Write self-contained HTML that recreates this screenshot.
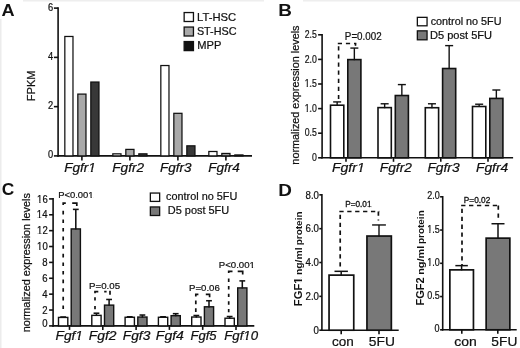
<!DOCTYPE html>
<html><head><meta charset="utf-8"><style>
html,body{margin:0;padding:0;background:#fff;width:520px;height:348px;overflow:hidden}
svg{display:block;filter:blur(0.35px)}
text{font-family:"Liberation Sans",sans-serif}
</style></head><body>
<svg width="520" height="348" viewBox="0 0 520 348">
<defs><clipPath id="cg1_1" clipPathUnits="userSpaceOnUse"><path clip-rule="evenodd" d="M-2000,-2000 L3000,-2000 L3000,3000 L-2000,3000 Z M304.70,112.55 L306.70,112.55 L306.70,110.69 L304.70,110.69 Z M307.85,112.55 L309.55,112.55 L309.55,110.69 L307.85,110.69 Z"/></clipPath><clipPath id="cg1_2" clipPathUnits="userSpaceOnUse"><path clip-rule="evenodd" d="M-2000,-2000 L3000,-2000 L3000,3000 L-2000,3000 Z M304.70,87.95 L306.70,87.95 L306.70,86.09 L304.70,86.09 Z M307.85,87.95 L309.55,87.95 L309.55,86.09 L307.85,86.09 Z"/></clipPath><clipPath id="cg1_3" clipPathUnits="userSpaceOnUse"><path clip-rule="evenodd" d="M-2000,-2000 L3000,-2000 L3000,3000 L-2000,3000 Z M37.08,250.93 L39.27,250.93 L39.27,249.11 L37.08,249.11 Z M40.54,250.93 L42.40,250.93 L42.40,249.11 L40.54,249.11 Z"/></clipPath><clipPath id="cg1_4" clipPathUnits="userSpaceOnUse"><path clip-rule="evenodd" d="M-2000,-2000 L3000,-2000 L3000,3000 L-2000,3000 Z M37.08,235.05 L39.27,235.05 L39.27,233.23 L37.08,233.23 Z M40.54,235.05 L42.40,235.05 L42.40,233.23 L40.54,233.23 Z"/></clipPath><clipPath id="cg1_5" clipPathUnits="userSpaceOnUse"><path clip-rule="evenodd" d="M-2000,-2000 L3000,-2000 L3000,3000 L-2000,3000 Z M36.85,219.18 L39.04,219.18 L39.04,217.36 L36.85,217.36 Z M40.31,219.18 L42.17,219.18 L42.17,217.36 L40.31,217.36 Z"/></clipPath><clipPath id="cg1_6" clipPathUnits="userSpaceOnUse"><path clip-rule="evenodd" d="M-2000,-2000 L3000,-2000 L3000,3000 L-2000,3000 Z M37.08,203.30 L39.27,203.30 L39.27,201.48 L37.08,201.48 Z M40.54,203.30 L42.40,203.30 L42.40,201.48 L40.54,201.48 Z"/></clipPath><clipPath id="cg1_7" clipPathUnits="userSpaceOnUse"><path clip-rule="evenodd" d="M-2000,-2000 L3000,-2000 L3000,3000 L-2000,3000 Z M427.15,266.53 L429.22,266.53 L429.22,264.82 L427.15,264.82 Z M430.41,266.53 L432.16,266.53 L432.16,264.82 L430.41,264.82 Z"/></clipPath><clipPath id="cg1_8" clipPathUnits="userSpaceOnUse"><path clip-rule="evenodd" d="M-2000,-2000 L3000,-2000 L3000,3000 L-2000,3000 Z M427.15,233.28 L429.22,233.28 L429.22,231.57 L427.15,231.57 Z M430.41,233.28 L432.16,233.28 L432.16,231.57 L430.41,231.57 Z"/></clipPath><clipPath id="cg1_9" clipPathUnits="userSpaceOnUse"><path clip-rule="evenodd" d="M-2000,-2000 L3000,-2000 L3000,3000 L-2000,3000 Z M88.01,172.72 L90.61,172.72 L91.06,170.58 L88.46,170.58 Z M92.34,172.72 L95.17,172.72 L95.62,170.58 L92.79,170.58 Z"/></clipPath><clipPath id="cg1_10" clipPathUnits="userSpaceOnUse"><path clip-rule="evenodd" d="M-2000,-2000 L3000,-2000 L3000,3000 L-2000,3000 Z M356.59,173.22 L359.27,173.22 L359.74,171.08 L357.05,171.08 Z M361.06,173.22 L363.99,173.22 L364.46,171.08 L361.53,171.08 Z"/></clipPath><clipPath id="cg1_11" clipPathUnits="userSpaceOnUse"><path clip-rule="evenodd" d="M-2000,-2000 L3000,-2000 L3000,3000 L-2000,3000 Z M75.03,341.02 L77.66,341.02 L78.12,338.88 L75.49,338.88 Z M79.42,341.02 L82.28,341.02 L82.74,338.88 L79.87,338.88 Z"/></clipPath><clipPath id="cg1_12" clipPathUnits="userSpaceOnUse"><path clip-rule="evenodd" d="M-2000,-2000 L3000,-2000 L3000,3000 L-2000,3000 Z M243.02,341.02 L245.57,341.02 L246.01,338.88 L243.46,338.88 Z M247.27,341.02 L250.04,341.02 L250.48,338.88 L247.71,338.88 Z"/></clipPath><clipPath id="cg1_13" clipPathUnits="userSpaceOnUse"><path clip-rule="evenodd" d="M-2000,-2000 L3000,-2000 L3000,3000 L-2000,3000 Z M88.34,198.32 L90.52,198.32 L90.52,196.64 L88.34,196.64 Z M91.77,198.32 L93.61,198.32 L93.61,196.64 L91.77,196.64 Z"/></clipPath><clipPath id="cg1_14" clipPathUnits="userSpaceOnUse"><path clip-rule="evenodd" d="M-2000,-2000 L3000,-2000 L3000,3000 L-2000,3000 Z M249.54,268.32 L251.76,268.32 L251.76,266.64 L249.54,266.64 Z M253.04,268.32 L254.92,268.32 L254.92,266.64 L253.04,266.64 Z"/></clipPath><clipPath id="cg1_15" clipPathUnits="userSpaceOnUse"><path clip-rule="evenodd" d="M-2000,-2000 L3000,-2000 L3000,3000 L-2000,3000 Z M22.37,0.84 L24.78,0.84 L24.78,-1.46 L22.37,-1.46 Z M26.74,0.84 L28.61,0.84 L28.61,-1.46 L26.74,-1.46 Z"/></clipPath><clipPath id="cg1_16" clipPathUnits="userSpaceOnUse"><path clip-rule="evenodd" d="M-2000,-2000 L3000,-2000 L3000,3000 L-2000,3000 Z M366.91,208.01 L368.80,208.01 L368.80,206.59 L366.91,206.59 Z M369.88,208.01 L371.48,208.01 L371.48,206.59 L369.88,206.59 Z"/></clipPath></defs>
<rect width="520" height="348" fill="#fff"/>
<rect x="0" y="19" width="1.5" height="329" fill="#ececec"/>
<rect x="23" y="0" width="241" height="1.5" fill="#eeeeee"/>
<rect x="303" y="0" width="217" height="1.5" fill="#eeeeee"/>
<line x1="58.10" y1="7.32" x2="58.10" y2="156.70" stroke="#111" stroke-width="1.6"/>
<line x1="57.30" y1="155.90" x2="252.00" y2="155.90" stroke="#111" stroke-width="1.6"/>
<line x1="53.90" y1="155.90" x2="58.10" y2="155.90" stroke="#111" stroke-width="1.6"/>
<line x1="53.90" y1="106.64" x2="58.10" y2="106.64" stroke="#111" stroke-width="1.6"/>
<line x1="53.90" y1="57.38" x2="58.10" y2="57.38" stroke="#111" stroke-width="1.6"/>
<line x1="53.90" y1="8.12" x2="58.10" y2="8.12" stroke="#111" stroke-width="1.6"/>
<rect x="64.83" y="36.47" width="8.15" height="119.43" fill="#ffffff" stroke="#111" stroke-width="1.25"/>
<rect x="77.83" y="94.10" width="8.15" height="61.80" fill="#a9a9a9" stroke="#111" stroke-width="1.25"/>
<rect x="90.83" y="82.04" width="8.15" height="73.86" fill="#383838" stroke="#111" stroke-width="1.25"/>
<line x1="81.90" y1="155.90" x2="81.90" y2="160.40" stroke="#111" stroke-width="1.6"/>
<rect x="112.83" y="153.83" width="8.15" height="2.07" fill="#ffffff" stroke="#111" stroke-width="1.25"/>
<rect x="125.83" y="149.40" width="8.15" height="6.50" fill="#a9a9a9" stroke="#111" stroke-width="1.25"/>
<rect x="138.83" y="153.83" width="8.15" height="2.07" fill="#383838" stroke="#111" stroke-width="1.25"/>
<line x1="129.90" y1="155.90" x2="129.90" y2="160.40" stroke="#111" stroke-width="1.6"/>
<rect x="160.83" y="65.53" width="8.15" height="90.37" fill="#ffffff" stroke="#111" stroke-width="1.25"/>
<rect x="173.83" y="113.32" width="8.15" height="42.58" fill="#a9a9a9" stroke="#111" stroke-width="1.25"/>
<rect x="186.83" y="145.83" width="8.15" height="10.07" fill="#383838" stroke="#111" stroke-width="1.25"/>
<line x1="177.90" y1="155.90" x2="177.90" y2="160.40" stroke="#111" stroke-width="1.6"/>
<rect x="208.83" y="151.49" width="8.15" height="4.41" fill="#ffffff" stroke="#111" stroke-width="1.25"/>
<rect x="221.83" y="153.46" width="8.15" height="2.44" fill="#a9a9a9" stroke="#111" stroke-width="1.25"/>
<rect x="234.83" y="154.94" width="8.15" height="0.96" fill="#383838" stroke="#111" stroke-width="1.25"/>
<line x1="225.90" y1="155.90" x2="225.90" y2="160.40" stroke="#111" stroke-width="1.6"/>
<rect x="184.15" y="12.55" width="9.30" height="8.95" fill="#ffffff" stroke="#111" stroke-width="1.3"/>
<rect x="184.15" y="27.05" width="9.30" height="8.95" fill="#a9a9a9" stroke="#111" stroke-width="1.3"/>
<rect x="184.15" y="41.55" width="9.30" height="9.05" fill="#111111" stroke="#111" stroke-width="1.3"/>
<line x1="322.10" y1="34.00" x2="322.10" y2="158.60" stroke="#111" stroke-width="1.6"/>
<line x1="321.30" y1="157.80" x2="513.10" y2="157.80" stroke="#111" stroke-width="1.6"/>
<line x1="318.10" y1="157.80" x2="322.10" y2="157.80" stroke="#111" stroke-width="1.6"/>
<line x1="318.10" y1="133.20" x2="322.10" y2="133.20" stroke="#111" stroke-width="1.6"/>
<line x1="318.10" y1="108.60" x2="322.10" y2="108.60" stroke="#111" stroke-width="1.6"/>
<line x1="318.10" y1="84.00" x2="322.10" y2="84.00" stroke="#111" stroke-width="1.6"/>
<line x1="318.10" y1="59.40" x2="322.10" y2="59.40" stroke="#111" stroke-width="1.6"/>
<line x1="318.10" y1="34.80" x2="322.10" y2="34.80" stroke="#111" stroke-width="1.6"/>
<rect x="330.50" y="105.21" width="13.30" height="52.59" fill="#ffffff" stroke="#111" stroke-width="1.6"/>
<rect x="347.80" y="59.60" width="13.10" height="98.20" fill="#787878" stroke="#111" stroke-width="1.6"/>
<line x1="337.15" y1="105.81" x2="337.15" y2="101.91" stroke="#111" stroke-width="1.4"/>
<line x1="333.15" y1="101.91" x2="341.15" y2="101.91" stroke="#111" stroke-width="1.4"/>
<line x1="354.35" y1="60.20" x2="354.35" y2="48.08" stroke="#111" stroke-width="1.4"/>
<line x1="350.35" y1="48.08" x2="358.35" y2="48.08" stroke="#111" stroke-width="1.4"/>
<line x1="346.00" y1="157.80" x2="346.00" y2="161.80" stroke="#111" stroke-width="1.6"/>
<rect x="378.00" y="107.62" width="13.30" height="50.18" fill="#ffffff" stroke="#111" stroke-width="1.6"/>
<rect x="395.30" y="95.52" width="13.10" height="62.28" fill="#787878" stroke="#111" stroke-width="1.6"/>
<line x1="384.65" y1="108.22" x2="384.65" y2="103.78" stroke="#111" stroke-width="1.4"/>
<line x1="380.65" y1="103.78" x2="388.65" y2="103.78" stroke="#111" stroke-width="1.4"/>
<line x1="401.85" y1="96.12" x2="401.85" y2="84.59" stroke="#111" stroke-width="1.4"/>
<line x1="397.85" y1="84.59" x2="405.85" y2="84.59" stroke="#111" stroke-width="1.4"/>
<line x1="393.50" y1="157.80" x2="393.50" y2="161.80" stroke="#111" stroke-width="1.6"/>
<rect x="425.30" y="107.72" width="13.30" height="50.08" fill="#ffffff" stroke="#111" stroke-width="1.6"/>
<rect x="442.60" y="68.51" width="13.10" height="89.29" fill="#787878" stroke="#111" stroke-width="1.6"/>
<line x1="431.95" y1="108.32" x2="431.95" y2="103.78" stroke="#111" stroke-width="1.4"/>
<line x1="427.95" y1="103.78" x2="435.95" y2="103.78" stroke="#111" stroke-width="1.4"/>
<line x1="449.15" y1="69.11" x2="449.15" y2="45.62" stroke="#111" stroke-width="1.4"/>
<line x1="445.15" y1="45.62" x2="453.15" y2="45.62" stroke="#111" stroke-width="1.4"/>
<line x1="440.80" y1="157.80" x2="440.80" y2="161.80" stroke="#111" stroke-width="1.6"/>
<rect x="472.50" y="106.49" width="13.30" height="51.31" fill="#ffffff" stroke="#111" stroke-width="1.6"/>
<rect x="489.80" y="98.42" width="13.10" height="59.38" fill="#787878" stroke="#111" stroke-width="1.6"/>
<line x1="479.15" y1="107.09" x2="479.15" y2="104.22" stroke="#111" stroke-width="1.4"/>
<line x1="475.15" y1="104.22" x2="483.15" y2="104.22" stroke="#111" stroke-width="1.4"/>
<line x1="496.35" y1="99.02" x2="496.35" y2="90.00" stroke="#111" stroke-width="1.4"/>
<line x1="492.35" y1="90.00" x2="500.35" y2="90.00" stroke="#111" stroke-width="1.4"/>
<line x1="488.00" y1="157.80" x2="488.00" y2="161.80" stroke="#111" stroke-width="1.6"/>
<line x1="337.80" y1="43.50" x2="356.30" y2="43.50" stroke="#111" stroke-width="1.6" stroke-dasharray="4.2,3.9" stroke-dashoffset="0"/>
<line x1="338.60" y1="43.50" x2="338.60" y2="99.30" stroke="#111" stroke-width="1.6" stroke-dasharray="4.2,3.9" stroke-dashoffset="5.3"/>
<line x1="355.50" y1="43.50" x2="355.50" y2="45.80" stroke="#111" stroke-width="1.6" stroke-dasharray="4.2,3.9" stroke-dashoffset="0"/>
<rect x="417.35" y="17.35" width="9.70" height="8.45" fill="#ffffff" stroke="#111" stroke-width="1.3"/>
<rect x="417.35" y="30.85" width="9.70" height="8.95" fill="#787878" stroke="#111" stroke-width="1.3"/>
<line x1="53.10" y1="198.10" x2="53.10" y2="326.70" stroke="#111" stroke-width="1.6"/>
<line x1="52.30" y1="325.90" x2="254.30" y2="325.90" stroke="#111" stroke-width="1.6"/>
<line x1="49.10" y1="325.90" x2="53.10" y2="325.90" stroke="#111" stroke-width="1.6"/>
<line x1="49.10" y1="310.02" x2="53.10" y2="310.02" stroke="#111" stroke-width="1.6"/>
<line x1="49.10" y1="294.15" x2="53.10" y2="294.15" stroke="#111" stroke-width="1.6"/>
<line x1="49.10" y1="278.27" x2="53.10" y2="278.27" stroke="#111" stroke-width="1.6"/>
<line x1="49.10" y1="262.40" x2="53.10" y2="262.40" stroke="#111" stroke-width="1.6"/>
<line x1="49.10" y1="246.52" x2="53.10" y2="246.52" stroke="#111" stroke-width="1.6"/>
<line x1="49.10" y1="230.65" x2="53.10" y2="230.65" stroke="#111" stroke-width="1.6"/>
<line x1="49.10" y1="214.77" x2="53.10" y2="214.77" stroke="#111" stroke-width="1.6"/>
<line x1="49.10" y1="198.90" x2="53.10" y2="198.90" stroke="#111" stroke-width="1.6"/>
<rect x="58.50" y="317.43" width="9.30" height="8.47" fill="#ffffff" stroke="#111" stroke-width="1.4"/>
<rect x="71.20" y="228.92" width="9.20" height="96.98" fill="#787878" stroke="#111" stroke-width="1.4"/>
<line x1="63.15" y1="318.03" x2="63.15" y2="317.01" stroke="#111" stroke-width="1.55"/>
<line x1="60.25" y1="317.01" x2="66.05" y2="317.01" stroke="#111" stroke-width="1.55"/>
<line x1="75.80" y1="229.52" x2="75.80" y2="209.38" stroke="#111" stroke-width="1.55"/>
<line x1="72.90" y1="209.38" x2="78.70" y2="209.38" stroke="#111" stroke-width="1.55"/>
<line x1="69.50" y1="325.90" x2="69.50" y2="329.90" stroke="#111" stroke-width="1.6"/>
<rect x="91.80" y="315.36" width="9.30" height="10.54" fill="#ffffff" stroke="#111" stroke-width="1.4"/>
<rect x="104.50" y="305.12" width="9.20" height="20.78" fill="#787878" stroke="#111" stroke-width="1.4"/>
<line x1="96.45" y1="315.96" x2="96.45" y2="313.20" stroke="#111" stroke-width="1.55"/>
<line x1="93.55" y1="313.20" x2="99.35" y2="313.20" stroke="#111" stroke-width="1.55"/>
<line x1="109.10" y1="305.72" x2="109.10" y2="299.47" stroke="#111" stroke-width="1.55"/>
<line x1="106.20" y1="299.47" x2="112.00" y2="299.47" stroke="#111" stroke-width="1.55"/>
<line x1="102.80" y1="325.90" x2="102.80" y2="329.90" stroke="#111" stroke-width="1.6"/>
<rect x="125.10" y="317.27" width="9.30" height="8.63" fill="#ffffff" stroke="#111" stroke-width="1.4"/>
<rect x="137.80" y="317.03" width="9.20" height="8.87" fill="#787878" stroke="#111" stroke-width="1.4"/>
<line x1="129.75" y1="317.87" x2="129.75" y2="316.77" stroke="#111" stroke-width="1.55"/>
<line x1="126.85" y1="316.77" x2="132.65" y2="316.77" stroke="#111" stroke-width="1.55"/>
<line x1="142.40" y1="317.63" x2="142.40" y2="315.03" stroke="#111" stroke-width="1.55"/>
<line x1="139.50" y1="315.03" x2="145.30" y2="315.03" stroke="#111" stroke-width="1.55"/>
<line x1="136.10" y1="325.90" x2="136.10" y2="329.90" stroke="#111" stroke-width="1.6"/>
<rect x="158.40" y="317.27" width="9.30" height="8.63" fill="#ffffff" stroke="#111" stroke-width="1.4"/>
<rect x="171.10" y="315.68" width="9.20" height="10.22" fill="#787878" stroke="#111" stroke-width="1.4"/>
<line x1="163.05" y1="317.87" x2="163.05" y2="316.77" stroke="#111" stroke-width="1.55"/>
<line x1="160.15" y1="316.77" x2="165.95" y2="316.77" stroke="#111" stroke-width="1.55"/>
<line x1="175.70" y1="316.28" x2="175.70" y2="313.68" stroke="#111" stroke-width="1.55"/>
<line x1="172.80" y1="313.68" x2="178.60" y2="313.68" stroke="#111" stroke-width="1.55"/>
<line x1="169.40" y1="325.90" x2="169.40" y2="329.90" stroke="#111" stroke-width="1.6"/>
<rect x="191.70" y="317.03" width="9.30" height="8.87" fill="#ffffff" stroke="#111" stroke-width="1.4"/>
<rect x="204.40" y="306.79" width="9.20" height="19.11" fill="#787878" stroke="#111" stroke-width="1.4"/>
<line x1="196.35" y1="317.63" x2="196.35" y2="315.50" stroke="#111" stroke-width="1.55"/>
<line x1="193.45" y1="315.50" x2="199.25" y2="315.50" stroke="#111" stroke-width="1.55"/>
<line x1="209.00" y1="307.39" x2="209.00" y2="300.74" stroke="#111" stroke-width="1.55"/>
<line x1="206.10" y1="300.74" x2="211.90" y2="300.74" stroke="#111" stroke-width="1.55"/>
<line x1="202.70" y1="325.90" x2="202.70" y2="329.90" stroke="#111" stroke-width="1.6"/>
<rect x="225.00" y="318.22" width="9.30" height="7.68" fill="#ffffff" stroke="#111" stroke-width="1.4"/>
<rect x="237.70" y="287.90" width="9.20" height="38.00" fill="#787878" stroke="#111" stroke-width="1.4"/>
<line x1="229.65" y1="318.82" x2="229.65" y2="316.53" stroke="#111" stroke-width="1.55"/>
<line x1="226.75" y1="316.53" x2="232.55" y2="316.53" stroke="#111" stroke-width="1.55"/>
<line x1="242.30" y1="288.50" x2="242.30" y2="280.89" stroke="#111" stroke-width="1.55"/>
<line x1="239.40" y1="280.89" x2="245.20" y2="280.89" stroke="#111" stroke-width="1.55"/>
<line x1="236.00" y1="325.90" x2="236.00" y2="329.90" stroke="#111" stroke-width="1.6"/>
<path d="M63.20,205.10 L63.20,203.10 L65.80,203.10 M72.20,203.10 L76.80,203.10 L76.80,206.00 M63.20,210.80 L63.20,214.40 M63.20,219.40 L63.20,223.00 M63.20,228.00 L63.20,231.60 M63.20,236.60 L63.20,240.20 M63.20,245.20 L63.20,248.80 M63.20,253.80 L63.20,257.40 M63.20,262.40 L63.20,266.00 M63.20,271.00 L63.20,274.60 M63.20,279.60 L63.20,283.20 M63.20,288.20 L63.20,291.80 M63.20,296.80 L63.20,300.40 M63.20,305.40 L63.20,309.00" fill="none" stroke="#111" stroke-width="1.7" stroke-linejoin="miter"/>
<path d="M95.00,293.20 L95.00,291.60 L98.30,291.60 M110.00,290.75 L110.00,294.70 M104.20,291.60 L106.60,291.60 M95.00,297.20 L95.00,300.60 M95.00,305.90 L95.00,309.30" fill="none" stroke="#111" stroke-width="1.7" stroke-linejoin="miter"/>
<path d="M195.80,296.40 L195.80,294.40 L198.40,294.40 M205.80,294.40 L209.60,294.40 L209.60,297.20 M195.80,300.50 L195.80,304.30 M195.80,308.20 L195.80,312.00" fill="none" stroke="#111" stroke-width="1.7" stroke-linejoin="miter"/>
<path d="M228.70,273.10 L228.70,271.30 L232.50,271.30 M237.70,271.30 L242.70,271.30 L242.70,274.60 M228.70,278.50 L228.70,281.90 M228.70,286.10 L228.70,289.50 M228.70,293.70 L228.70,297.10 M228.70,301.30 L228.70,304.70 M228.70,308.90 L228.70,312.30" fill="none" stroke="#111" stroke-width="1.7" stroke-linejoin="miter"/>
<rect x="150.35" y="193.05" width="9.30" height="8.35" fill="#ffffff" stroke="#111" stroke-width="1.3"/>
<rect x="150.35" y="206.95" width="9.30" height="8.55" fill="#787878" stroke="#111" stroke-width="1.3"/>
<line x1="321.90" y1="194.04" x2="321.90" y2="331.00" stroke="#111" stroke-width="1.6"/>
<line x1="321.10" y1="330.20" x2="398.70" y2="330.20" stroke="#111" stroke-width="1.6"/>
<line x1="319.30" y1="330.20" x2="321.90" y2="330.20" stroke="#111" stroke-width="1.6"/>
<line x1="319.30" y1="296.36" x2="321.90" y2="296.36" stroke="#111" stroke-width="1.6"/>
<line x1="319.30" y1="262.52" x2="321.90" y2="262.52" stroke="#111" stroke-width="1.6"/>
<line x1="319.30" y1="228.68" x2="321.90" y2="228.68" stroke="#111" stroke-width="1.6"/>
<line x1="319.30" y1="194.84" x2="321.90" y2="194.84" stroke="#111" stroke-width="1.6"/>
<rect x="329.05" y="275.12" width="24.70" height="55.08" fill="#ffffff" stroke="#111" stroke-width="1.7"/>
<rect x="366.95" y="236.04" width="24.40" height="94.16" fill="#787878" stroke="#111" stroke-width="1.7"/>
<line x1="341.20" y1="275.84" x2="341.20" y2="271.32" stroke="#111" stroke-width="1.5"/>
<line x1="334.50" y1="271.32" x2="347.90" y2="271.32" stroke="#111" stroke-width="1.5"/>
<line x1="379.00" y1="236.59" x2="379.00" y2="224.96" stroke="#111" stroke-width="1.4"/>
<line x1="372.10" y1="224.96" x2="385.90" y2="224.96" stroke="#111" stroke-width="1.4"/>
<line x1="341.20" y1="330.20" x2="341.20" y2="334.20" stroke="#111" stroke-width="1.6"/>
<line x1="379.00" y1="330.20" x2="379.00" y2="334.20" stroke="#111" stroke-width="1.6"/>
<line x1="339.35" y1="211.50" x2="379.25" y2="211.50" stroke="#111" stroke-width="1.7" stroke-dasharray="4.3,3.6" stroke-dashoffset="0"/>
<line x1="340.20" y1="211.50" x2="340.20" y2="268.50" stroke="#111" stroke-width="1.7" stroke-dasharray="4.3,3.6" stroke-dashoffset="4.6"/>
<line x1="378.40" y1="211.50" x2="378.40" y2="220.50" stroke="#111" stroke-width="1.7" stroke-dasharray="4.3,3.6" stroke-dashoffset="0"/>
<line x1="442.70" y1="196.00" x2="442.70" y2="330.60" stroke="#111" stroke-width="1.6"/>
<line x1="441.90" y1="329.80" x2="516.70" y2="329.80" stroke="#111" stroke-width="1.6"/>
<line x1="440.10" y1="329.80" x2="442.70" y2="329.80" stroke="#111" stroke-width="1.6"/>
<line x1="440.10" y1="296.55" x2="442.70" y2="296.55" stroke="#111" stroke-width="1.6"/>
<line x1="440.10" y1="263.30" x2="442.70" y2="263.30" stroke="#111" stroke-width="1.6"/>
<line x1="440.10" y1="230.05" x2="442.70" y2="230.05" stroke="#111" stroke-width="1.6"/>
<line x1="440.10" y1="196.80" x2="442.70" y2="196.80" stroke="#111" stroke-width="1.6"/>
<rect x="449.85" y="269.87" width="23.60" height="59.93" fill="#ffffff" stroke="#111" stroke-width="1.7"/>
<rect x="486.15" y="238.15" width="23.70" height="91.65" fill="#787878" stroke="#111" stroke-width="1.7"/>
<line x1="461.60" y1="270.42" x2="461.60" y2="265.63" stroke="#111" stroke-width="1.5"/>
<line x1="455.35" y1="265.63" x2="467.85" y2="265.63" stroke="#111" stroke-width="1.5"/>
<line x1="498.00" y1="238.70" x2="498.00" y2="223.73" stroke="#111" stroke-width="1.5"/>
<line x1="491.50" y1="223.73" x2="504.50" y2="223.73" stroke="#111" stroke-width="1.5"/>
<line x1="461.80" y1="329.80" x2="461.80" y2="333.80" stroke="#111" stroke-width="1.6"/>
<line x1="497.80" y1="329.80" x2="497.80" y2="333.80" stroke="#111" stroke-width="1.6"/>
<line x1="461.15" y1="205.50" x2="499.15" y2="205.50" stroke="#111" stroke-width="1.7" stroke-dasharray="4.3,3.6" stroke-dashoffset="0"/>
<line x1="462.00" y1="205.50" x2="462.00" y2="265.00" stroke="#111" stroke-width="1.7" stroke-dasharray="4.3,3.6" stroke-dashoffset="4.6"/>
<line x1="498.30" y1="205.50" x2="498.30" y2="218.50" stroke="#111" stroke-width="1.7" stroke-dasharray="4.3,3.6" stroke-dashoffset="0"/>
<text x="47.96" y="158.12" font-size="10.6" font-weight="normal" textLength="5.20" lengthAdjust="spacingAndGlyphs" fill="#111" stroke="#111" stroke-width="0.22">0</text>
<text x="47.96" y="109.37" font-size="10.6" font-weight="normal" textLength="5.20" lengthAdjust="spacingAndGlyphs" fill="#111" stroke="#111" stroke-width="0.22">2</text>
<text x="47.96" y="60.11" font-size="10.6" font-weight="normal" textLength="5.20" lengthAdjust="spacingAndGlyphs" fill="#111" stroke="#111" stroke-width="0.22">4</text>
<text x="47.96" y="10.85" font-size="10.6" font-weight="normal" textLength="5.20" lengthAdjust="spacingAndGlyphs" fill="#111" stroke="#111" stroke-width="0.22">6</text>
<text x="311.90" y="161.15" font-size="10.9" font-weight="normal" textLength="4.85" lengthAdjust="spacingAndGlyphs" fill="#111" stroke="#111" stroke-width="0.22">0</text>
<text x="304.70" y="136.35" font-size="10.9" font-weight="normal" textLength="12.11" lengthAdjust="spacingAndGlyphs" fill="#111" stroke="#111" stroke-width="0.22">0.5</text>
<text id="g1_1" clip-path="url(#cg1_1)" x="304.70" y="111.75" font-size="10.9" font-weight="normal" textLength="12.11" lengthAdjust="spacingAndGlyphs" fill="#111" stroke="#111" stroke-width="0.22">1.0</text>
<text id="g1_2" clip-path="url(#cg1_2)" x="304.70" y="87.15" font-size="10.9" font-weight="normal" textLength="12.11" lengthAdjust="spacingAndGlyphs" fill="#111" stroke="#111" stroke-width="0.22">1.5</text>
<text x="304.70" y="62.55" font-size="10.9" font-weight="normal" textLength="12.11" lengthAdjust="spacingAndGlyphs" fill="#111" stroke="#111" stroke-width="0.22">2.0</text>
<text x="304.70" y="37.95" font-size="10.9" font-weight="normal" textLength="12.11" lengthAdjust="spacingAndGlyphs" fill="#111" stroke="#111" stroke-width="0.22">2.5</text>
<text x="42.25" y="327.42" font-size="10.6" font-weight="normal" textLength="5.32" lengthAdjust="spacingAndGlyphs" fill="#111" stroke="#111" stroke-width="0.22">0</text>
<text x="42.25" y="313.65" font-size="10.6" font-weight="normal" textLength="5.32" lengthAdjust="spacingAndGlyphs" fill="#111" stroke="#111" stroke-width="0.22">2</text>
<text x="42.25" y="297.77" font-size="10.6" font-weight="normal" textLength="5.32" lengthAdjust="spacingAndGlyphs" fill="#111" stroke="#111" stroke-width="0.22">4</text>
<text x="42.25" y="281.90" font-size="10.6" font-weight="normal" textLength="5.32" lengthAdjust="spacingAndGlyphs" fill="#111" stroke="#111" stroke-width="0.22">6</text>
<text x="42.25" y="266.02" font-size="10.6" font-weight="normal" textLength="5.32" lengthAdjust="spacingAndGlyphs" fill="#111" stroke="#111" stroke-width="0.22">8</text>
<text id="g1_3" clip-path="url(#cg1_3)" x="37.08" y="250.15" font-size="10.6" font-weight="normal" textLength="10.62" lengthAdjust="spacingAndGlyphs" fill="#111" stroke="#111" stroke-width="0.22">10</text>
<text id="g1_4" clip-path="url(#cg1_4)" x="37.08" y="234.27" font-size="10.6" font-weight="normal" textLength="10.62" lengthAdjust="spacingAndGlyphs" fill="#111" stroke="#111" stroke-width="0.22">12</text>
<text id="g1_5" clip-path="url(#cg1_5)" x="36.85" y="218.40" font-size="10.6" font-weight="normal" textLength="10.62" lengthAdjust="spacingAndGlyphs" fill="#111" stroke="#111" stroke-width="0.22">14</text>
<text id="g1_6" clip-path="url(#cg1_6)" x="37.08" y="202.52" font-size="10.6" font-weight="normal" textLength="10.62" lengthAdjust="spacingAndGlyphs" fill="#111" stroke="#111" stroke-width="0.22">16</text>
<text x="313.61" y="334.10" font-size="10.2" font-weight="normal" textLength="5.39" lengthAdjust="spacingAndGlyphs" fill="#111" stroke="#111" stroke-width="0.22">0</text>
<text x="305.54" y="300.06" font-size="10.2" font-weight="normal" textLength="13.46" lengthAdjust="spacingAndGlyphs" fill="#111" stroke="#111" stroke-width="0.22">2.0</text>
<text x="305.54" y="266.22" font-size="10.2" font-weight="normal" textLength="13.46" lengthAdjust="spacingAndGlyphs" fill="#111" stroke="#111" stroke-width="0.22">4.0</text>
<text x="305.54" y="232.38" font-size="10.2" font-weight="normal" textLength="13.46" lengthAdjust="spacingAndGlyphs" fill="#111" stroke="#111" stroke-width="0.22">6.0</text>
<text x="305.54" y="198.54" font-size="10.2" font-weight="normal" textLength="13.46" lengthAdjust="spacingAndGlyphs" fill="#111" stroke="#111" stroke-width="0.22">8.0</text>
<text x="434.57" y="332.30" font-size="10" font-weight="normal" textLength="5.01" lengthAdjust="spacingAndGlyphs" fill="#111" stroke="#111" stroke-width="0.22">0</text>
<text x="427.15" y="299.05" font-size="10" font-weight="normal" textLength="12.52" lengthAdjust="spacingAndGlyphs" fill="#111" stroke="#111" stroke-width="0.22">0.5</text>
<text id="g1_7" clip-path="url(#cg1_7)" x="427.15" y="265.80" font-size="10" font-weight="normal" textLength="12.52" lengthAdjust="spacingAndGlyphs" fill="#111" stroke="#111" stroke-width="0.22">1.0</text>
<text id="g1_8" clip-path="url(#cg1_8)" x="427.15" y="232.55" font-size="10" font-weight="normal" textLength="12.52" lengthAdjust="spacingAndGlyphs" fill="#111" stroke="#111" stroke-width="0.22">1.5</text>
<text x="427.15" y="199.30" font-size="10" font-weight="normal" textLength="12.52" lengthAdjust="spacingAndGlyphs" fill="#111" stroke="#111" stroke-width="0.22">2.0</text>
<text x="1.57" y="16.10" font-size="17" font-weight="bold" font-style="normal" textLength="13.10" lengthAdjust="spacingAndGlyphs" fill="#111">A</text>
<text transform="translate(34.60,101.19) rotate(-90)" x="0" y="0" font-size="10.5" font-weight="normal" font-style="normal" textLength="30.66" lengthAdjust="spacingAndGlyphs" fill="#111" stroke="#111" stroke-width="0.22">FPKM</text>
<text id="g1_9" clip-path="url(#cg1_9)" x="64.26" y="171.80" font-size="12.5" font-weight="normal" font-style="italic" textLength="31.63" lengthAdjust="spacingAndGlyphs" fill="#111" stroke="#111" stroke-width="0.22">Fgfr1</text>
<text x="112.25" y="171.80" font-size="12.5" font-weight="normal" font-style="italic" textLength="31.85" lengthAdjust="spacingAndGlyphs" fill="#111" stroke="#111" stroke-width="0.22">Fgfr2</text>
<text x="160.06" y="171.80" font-size="12.5" font-weight="normal" font-style="italic" textLength="31.44" lengthAdjust="spacingAndGlyphs" fill="#111" stroke="#111" stroke-width="0.22">Fgfr3</text>
<text x="208.16" y="171.80" font-size="12.5" font-weight="normal" font-style="italic" textLength="31.72" lengthAdjust="spacingAndGlyphs" fill="#111" stroke="#111" stroke-width="0.22">Fgfr4</text>
<text x="197.06" y="20.50" font-size="10.8" font-weight="normal" font-style="normal" textLength="39.10" lengthAdjust="spacingAndGlyphs" fill="#111" stroke="#111" stroke-width="0.22">LT-HSC</text>
<text x="196.90" y="34.90" font-size="10.8" font-weight="normal" font-style="normal" textLength="39.64" lengthAdjust="spacingAndGlyphs" fill="#111" stroke="#111" stroke-width="0.22">ST-HSC</text>
<text x="197.37" y="48.60" font-size="10.8" font-weight="normal" font-style="normal" textLength="24.11" lengthAdjust="spacingAndGlyphs" fill="#111" stroke="#111" stroke-width="0.22">MPP</text>
<text x="278.31" y="16.20" font-size="17" font-weight="bold" font-style="normal" textLength="13.66" lengthAdjust="spacingAndGlyphs" fill="#111">B</text>
<text transform="translate(299.40,164.64) rotate(-90)" x="0" y="0" font-size="11" font-weight="normal" font-style="normal" textLength="139.12" lengthAdjust="spacingAndGlyphs" fill="#111" stroke="#111" stroke-width="0.22">normalized expression levels</text>
<text id="g1_10" clip-path="url(#cg1_10)" x="332.04" y="172.30" font-size="12.5" font-weight="normal" font-style="italic" textLength="32.69" lengthAdjust="spacingAndGlyphs" fill="#111" stroke="#111" stroke-width="0.22">Fgfr1</text>
<text x="379.75" y="172.30" font-size="12.5" font-weight="normal" font-style="italic" textLength="32.16" lengthAdjust="spacingAndGlyphs" fill="#111" stroke="#111" stroke-width="0.22">Fgfr2</text>
<text x="427.45" y="172.30" font-size="12.5" font-weight="normal" font-style="italic" textLength="32.16" lengthAdjust="spacingAndGlyphs" fill="#111" stroke="#111" stroke-width="0.22">Fgfr3</text>
<text x="475.95" y="172.30" font-size="12.5" font-weight="normal" font-style="italic" textLength="32.34" lengthAdjust="spacingAndGlyphs" fill="#111" stroke="#111" stroke-width="0.22">Fgfr4</text>
<text x="344.87" y="39.50" font-size="10.0" font-weight="normal" font-style="normal" textLength="36.77" lengthAdjust="spacingAndGlyphs" fill="#111" stroke="#111" stroke-width="0.22">P=0.002</text>
<text x="430.70" y="25.00" font-size="10.8" font-weight="normal" font-style="normal" textLength="70.81" lengthAdjust="spacingAndGlyphs" fill="#111" stroke="#111" stroke-width="0.22">control no 5FU</text>
<text x="429.98" y="38.50" font-size="10.8" font-weight="normal" font-style="normal" textLength="62.11" lengthAdjust="spacingAndGlyphs" fill="#111" stroke="#111" stroke-width="0.22">D5 post 5FU</text>
<text x="1.84" y="195.40" font-size="17" font-weight="bold" font-style="normal" textLength="12.50" lengthAdjust="spacingAndGlyphs" fill="#111">C</text>
<text transform="translate(30.20,332.34) rotate(-90)" x="0" y="0" font-size="11" font-weight="normal" font-style="normal" textLength="139.22" lengthAdjust="spacingAndGlyphs" fill="#111" stroke="#111" stroke-width="0.22">normalized expression levels</text>
<text id="g1_11" clip-path="url(#cg1_11)" x="55.55" y="340.10" font-size="12.5" font-weight="normal" font-style="italic" textLength="27.46" lengthAdjust="spacingAndGlyphs" fill="#111" stroke="#111" stroke-width="0.22">Fgf1</text>
<text x="88.75" y="340.10" font-size="12.5" font-weight="normal" font-style="italic" textLength="27.75" lengthAdjust="spacingAndGlyphs" fill="#111" stroke="#111" stroke-width="0.22">Fgf2</text>
<text x="122.85" y="340.10" font-size="12.5" font-weight="normal" font-style="italic" textLength="27.47" lengthAdjust="spacingAndGlyphs" fill="#111" stroke="#111" stroke-width="0.22">Fgf3</text>
<text x="155.84" y="340.10" font-size="12.5" font-weight="normal" font-style="italic" textLength="28.04" lengthAdjust="spacingAndGlyphs" fill="#111" stroke="#111" stroke-width="0.22">Fgf4</text>
<text x="190.48" y="340.10" font-size="12.5" font-weight="normal" font-style="italic" textLength="26.14" lengthAdjust="spacingAndGlyphs" fill="#111" stroke="#111" stroke-width="0.22">Fgf5</text>
<text id="g1_12" clip-path="url(#cg1_12)" x="224.17" y="340.10" font-size="12.5" font-weight="normal" font-style="italic" textLength="33.96" lengthAdjust="spacingAndGlyphs" fill="#111" stroke="#111" stroke-width="0.22">Fgf10</text>
<text id="g1_13" clip-path="url(#cg1_13)" x="58.18" y="197.60" font-size="9.8" font-weight="normal" font-style="normal" textLength="35.43" lengthAdjust="spacingAndGlyphs" fill="#111" stroke="#111" stroke-width="0.22">P&lt;0.001</text>
<text x="89.06" y="289.00" font-size="9.8" font-weight="normal" font-style="normal" textLength="31.07" lengthAdjust="spacingAndGlyphs" fill="#111" stroke="#111" stroke-width="0.22">P=0.05</text>
<text x="188.96" y="290.50" font-size="9.8" font-weight="normal" font-style="normal" textLength="30.86" lengthAdjust="spacingAndGlyphs" fill="#111" stroke="#111" stroke-width="0.22">P=0.06</text>
<text id="g1_14" clip-path="url(#cg1_14)" x="218.76" y="267.60" font-size="9.8" font-weight="normal" font-style="normal" textLength="36.16" lengthAdjust="spacingAndGlyphs" fill="#111" stroke="#111" stroke-width="0.22">P&lt;0.001</text>
<text x="166.00" y="200.40" font-size="10.8" font-weight="normal" font-style="normal" textLength="71.32" lengthAdjust="spacingAndGlyphs" fill="#111" stroke="#111" stroke-width="0.22">control no 5FU</text>
<text x="167.79" y="214.20" font-size="10.8" font-weight="normal" font-style="normal" textLength="61.38" lengthAdjust="spacingAndGlyphs" fill="#111" stroke="#111" stroke-width="0.22">D5 post 5FU</text>
<text x="278.31" y="195.50" font-size="17" font-weight="bold" font-style="normal" textLength="13.66" lengthAdjust="spacingAndGlyphs" fill="#111">D</text>
<text id="g1_15" clip-path="url(#cg1_15)" transform="translate(301.80,306.13) rotate(-90)" x="0" y="0" font-size="11.5" font-weight="bold" font-style="normal" textLength="28.61" lengthAdjust="spacingAndGlyphs" fill="#111">FGF1</text>
<text transform="translate(301.80,275.09) rotate(-90)" x="0" y="0" font-size="9.8" font-weight="bold" font-style="normal" textLength="27.66" lengthAdjust="spacingAndGlyphs" fill="#111">ng/ml</text>
<text transform="translate(301.80,245.26) rotate(-90)" x="0" y="0" font-size="9.8" font-weight="bold" font-style="normal" textLength="33.78" lengthAdjust="spacingAndGlyphs" fill="#111">protein</text>
<text x="331.98" y="346.40" font-size="13" font-weight="normal" font-style="normal" textLength="21.77" lengthAdjust="spacingAndGlyphs" fill="#111" stroke="#111" stroke-width="0.22">con</text>
<text x="368.87" y="345.90" font-size="13" font-weight="normal" font-style="normal" textLength="26.06" lengthAdjust="spacingAndGlyphs" fill="#111" stroke="#111" stroke-width="0.22">5FU</text>
<text id="g1_16" clip-path="url(#cg1_16)" x="345.26" y="207.40" font-size="8.3" font-weight="normal" font-style="normal" textLength="26.22" lengthAdjust="spacingAndGlyphs" fill="#111" stroke="#111" stroke-width="0.3">P=0.01</text>
<text transform="translate(423.80,305.52) rotate(-90)" x="0" y="0" font-size="11.5" font-weight="bold" font-style="normal" textLength="28.30" lengthAdjust="spacingAndGlyphs" fill="#111">FGF2</text>
<text transform="translate(423.80,274.83) rotate(-90)" x="0" y="0" font-size="9.8" font-weight="bold" font-style="normal" textLength="29.03" lengthAdjust="spacingAndGlyphs" fill="#111">ng/ml</text>
<text transform="translate(423.80,244.06) rotate(-90)" x="0" y="0" font-size="9.8" font-weight="bold" font-style="normal" textLength="33.78" lengthAdjust="spacingAndGlyphs" fill="#111">protein</text>
<text x="454.26" y="345.60" font-size="13" font-weight="normal" font-style="normal" textLength="22.51" lengthAdjust="spacingAndGlyphs" fill="#111" stroke="#111" stroke-width="0.22">con</text>
<text x="491.37" y="345.50" font-size="13" font-weight="normal" font-style="normal" textLength="25.95" lengthAdjust="spacingAndGlyphs" fill="#111" stroke="#111" stroke-width="0.22">5FU</text>
<text x="463.85" y="203.00" font-size="8.3" font-weight="normal" font-style="normal" textLength="26.43" lengthAdjust="spacingAndGlyphs" fill="#111" stroke="#111" stroke-width="0.3">P=0.02</text>
</svg>
</body></html>
